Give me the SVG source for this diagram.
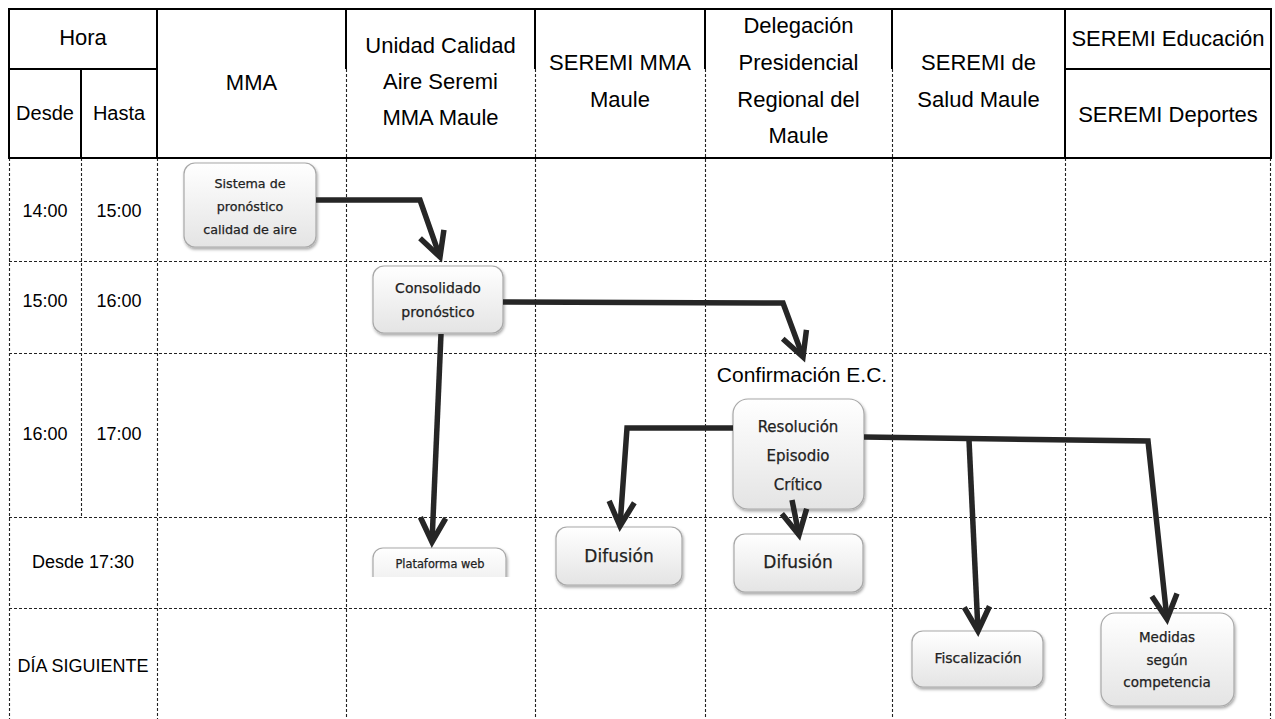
<svg xmlns="http://www.w3.org/2000/svg" width="1275" height="719" viewBox="0 0 1275 719">
<style>
.solid{stroke:#000;stroke-width:2;fill:none}
.dash{stroke:#222;stroke-width:1.1;stroke-dasharray:3 2;fill:none}
.hd{font-family:"Liberation Sans",Arial,sans-serif;font-size:22px;fill:#000;text-anchor:middle}
.lb{font-family:"Liberation Sans",Arial,sans-serif;font-size:18px;fill:#000;text-anchor:middle}
.box{fill:url(#g);stroke:#a8a8a8;stroke-width:1.2;filter:url(#sh)}
.bt{font-family:"DejaVu Sans",Verdana,sans-serif;fill:#222;stroke:#222;stroke-width:0.25;text-anchor:middle}
.cn{stroke:#262626;stroke-width:5.5;fill:none;stroke-linejoin:miter;marker-end:url(#ah)}
</style>
<defs>
<linearGradient id="g" x1="0" y1="0" x2="0" y2="1">
<stop offset="0" stop-color="#ffffff"/>
<stop offset="1" stop-color="#e4e4e4"/>
</linearGradient>
<filter id="sh" x="-20%" y="-20%" width="140%" height="150%">
<feDropShadow dx="1" dy="2" stdDeviation="1.5" flood-color="#000" flood-opacity="0.35"/>
</filter>
<marker id="ah" markerUnits="strokeWidth" orient="auto" overflow="visible" refX="0" refY="0" markerWidth="6" markerHeight="6">
<path d="M -4.4 -2.3 L 0 0 L -4.4 2.3" fill="none" stroke="#262626" stroke-width="1" stroke-linejoin="miter"/>
</marker>
<clipPath id="clipPlat"><rect x="360" y="540" width="160" height="37"/></clipPath>
</defs>
<rect width="1275" height="719" fill="#fff"/>
<g id="grid">
<path class="dash" d="M346.5 69V719M535.5 69V719M705.5 69V719M892.5 69V719M9.5 158V719M157.5 158V719M1065.5 158V719M1270.5 158V719M81.5 158V517M9 261.5H1271M9 353.5H1271M9 517.5H1271M9 608.5H1271"/>
<path class="solid" d="M8 9H1272M8 158H1272M9 69H157M1065 69H1271M9 8V158M157 8V158M1065 8V158M1271 8V158M81 69V158M346 8V69M535 8V69M705 8V69M892 8V69"/>
</g>
<g id="header">
<text class="hd" x="83" y="45">Hora</text>
<text class="hd" x="45" y="120" style="font-size:20px">Desde</text>
<text class="hd" x="119" y="120" style="font-size:20px">Hasta</text>
<text class="hd" x="251.5" y="90">MMA</text>
<text class="hd" x="440.5" y="53">Unidad Calidad</text>
<text class="hd" x="440.5" y="89">Aire Seremi</text>
<text class="hd" x="440.5" y="125">MMA Maule</text>
<text class="hd" x="620" y="70">SEREMI MMA</text>
<text class="hd" x="620" y="107">Maule</text>
<text class="hd" x="798.5" y="33">Delegación</text>
<text class="hd" x="798.5" y="70">Presidencial</text>
<text class="hd" x="798.5" y="107">Regional del</text>
<text class="hd" x="798.5" y="143">Maule</text>
<text class="hd" x="978.5" y="70">SEREMI de</text>
<text class="hd" x="978.5" y="107">Salud Maule</text>
<text class="hd" x="1168" y="46">SEREMI Educación</text>
<text class="hd" x="1168" y="122">SEREMI Deportes</text>
</g>
<g id="rows">
<text class="lb" x="45" y="217">14:00</text>
<text class="lb" x="119" y="217">15:00</text>
<text class="lb" x="45" y="307">15:00</text>
<text class="lb" x="119" y="307">16:00</text>
<text class="lb" x="45" y="440">16:00</text>
<text class="lb" x="119" y="440">17:00</text>
<text class="lb" x="83" y="568">Desde 17:30</text>
<text class="lb" x="83" y="672">DÍA SIGUIENTE</text>
<text class="hd" x="802" y="382" style="font-size:21px">Confirmación E.C.</text>
</g>
<g id="node-sistema">
<rect class="box" x="184" y="163" width="132" height="84" rx="11"/>
<text class="bt" x="250" y="188" font-size="12.7">Sistema de</text>
<text class="bt" x="250" y="211" font-size="12.7">pronóstico</text>
<text class="bt" x="250" y="234" font-size="12.7">calidad de aire</text>
</g>
<g id="node-consolidado">
<rect class="box" x="373" y="266" width="130" height="67" rx="11"/>
<text class="bt" x="438" y="293" font-size="14">Consolidado</text>
<text class="bt" x="438" y="317" font-size="14">pronóstico</text>
</g>
<g id="node-plataforma" clip-path="url(#clipPlat)">
<rect class="box" x="373" y="548" width="133" height="60" rx="10"/>
<text class="bt" x="440" y="568" font-size="11.4">Plataforma web</text>
</g>
<g id="node-resolucion">
<rect class="box" x="733" y="399" width="131" height="110" rx="15"/>
<text class="bt" x="798" y="432" font-size="15">Resolución</text>
<text class="bt" x="798" y="461" font-size="15">Episodio</text>
<text class="bt" x="798" y="490" font-size="15">Crítico</text>
</g>
<g id="node-difusion1">
<rect class="box" x="556" y="527" width="126" height="58" rx="11"/>
<text class="bt" x="619" y="562" font-size="17">Difusión</text>
</g>
<g id="node-difusion2">
<rect class="box" x="734" y="534" width="129" height="58" rx="11"/>
<text class="bt" x="798" y="568" font-size="17">Difusión</text>
</g>
<g id="node-fiscalizacion">
<rect class="box" x="912" y="631" width="131" height="56" rx="11"/>
<text class="bt" x="978" y="663" font-size="14">Fiscalización</text>
</g>
<g id="node-medidas">
<rect class="box" x="1101" y="613" width="133" height="93" rx="14"/>
<text class="bt" x="1167" y="642" font-size="13.5">Medidas</text>
<text class="bt" x="1167" y="664.5" font-size="13.5">según</text>
<text class="bt" x="1167" y="687" font-size="13.5">competencia</text>
</g>
<g id="connectors">
<polyline class="cn" points="316,200 420,200 440,257"/>
<polyline class="cn" points="503,302 783,303 803,357"/>
<polyline class="cn" points="441,334 432,542"/>
<polyline class="cn" points="733,428 627,428 620,526"/>
<polyline class="cn" points="792,500 799,535"/>
<polyline class="cn" points="864,437 1148,441 1167,619"/>
<polyline class="cn" points="969,440 978,631"/>
</g>
</svg>
